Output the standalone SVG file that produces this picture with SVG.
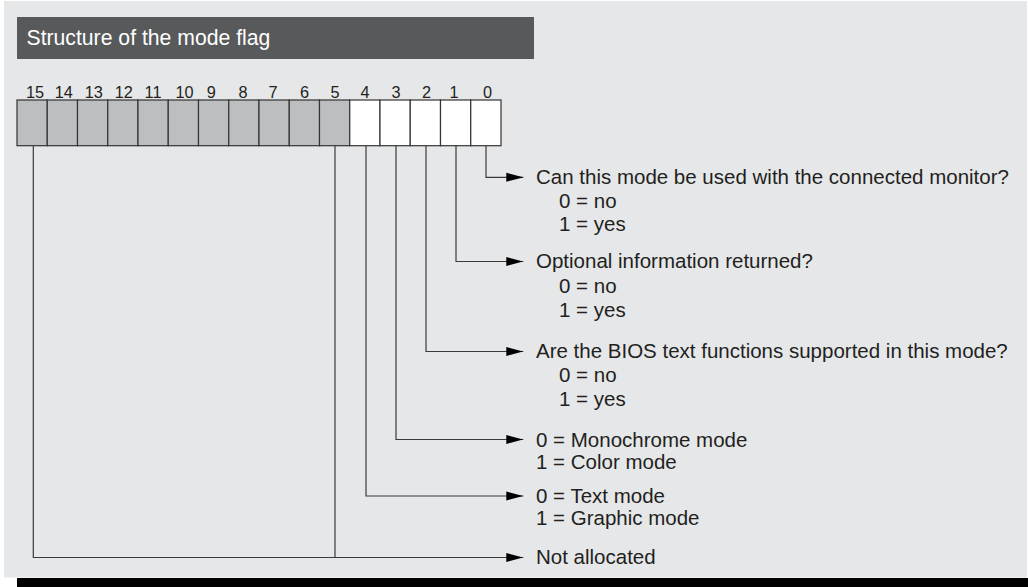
<svg xmlns="http://www.w3.org/2000/svg" width="1028" height="587" viewBox="0 0 1028 587">
  <defs>
    <style>
      .bg { fill: #e6e7e9; }
      .title-bar { fill: #58595b; }
      .title { font-family: "Liberation Sans", Arial, Helvetica, sans-serif; font-size: 21.2px; fill: #ffffff; }
      .bitnum { font-family: "Liberation Sans", Arial, Helvetica, sans-serif; font-size: 16.3px; fill: #231f20; text-anchor: middle; }
      .cell-gray { fill: #bcbec0; stroke: #333333; stroke-width: 1.2; }
      .cell-white { fill: #ffffff; stroke: #333333; stroke-width: 1.2; }
      .conn { fill: none; stroke: #3a3a3a; stroke-width: 1.2; }
      .lbl { font-family: "Liberation Sans", Arial, Helvetica, sans-serif; font-size: 20.5px; fill: #231f20; }
    </style>
    <marker id="ah" markerUnits="userSpaceOnUse" markerWidth="17" markerHeight="10" refX="17" refY="4.5" orient="auto" viewBox="0 0 17 9">
      <path d="M0,0 L17,4.5 L0,9 z" fill="#000000"/>
    </marker>
  </defs>

  <rect x="0" y="0" width="1028" height="587" fill="#ffffff"/>
  <rect class="bg" x="4" y="1" width="1023" height="576.5"/>
  <rect x="17" y="578" width="1011" height="9" fill="#000000"/>

  <g id="title">
    <rect class="title-bar" x="17" y="17" width="517" height="42"/>
    <text class="title" x="26.5" y="44.5">Structure of the mode flag</text>
  </g>

  <g id="register">
    <g id="bit-numbers">
      <text class="bitnum" x="35" y="97.5">15</text>
      <text class="bitnum" x="63.8" y="97.5">14</text>
      <text class="bitnum" x="93.8" y="97.5">13</text>
      <text class="bitnum" x="123.8" y="97.5">12</text>
      <text class="bitnum" x="153" y="97.5">11</text>
      <text class="bitnum" x="184.5" y="97.5">10</text>
      <text class="bitnum" x="211.3" y="97.5">9</text>
      <text class="bitnum" x="243" y="97.5">8</text>
      <text class="bitnum" x="273" y="97.5">7</text>
      <text class="bitnum" x="304.5" y="97.5">6</text>
      <text class="bitnum" x="335" y="97.5">5</text>
      <text class="bitnum" x="365" y="97.5">4</text>
      <text class="bitnum" x="396" y="97.5">3</text>
      <text class="bitnum" x="426.5" y="97.5">2</text>
      <text class="bitnum" x="454" y="97.5">1</text>
      <text class="bitnum" x="487.5" y="97.5">0</text>
    </g>
    <g id="cells">
      <rect class="cell-gray" x="17" y="100" width="30.25" height="45.7"/>
      <rect class="cell-gray" x="47.25" y="100" width="30.25" height="45.7"/>
      <rect class="cell-gray" x="77.5" y="100" width="30.25" height="45.7"/>
      <rect class="cell-gray" x="107.75" y="100" width="30.25" height="45.7"/>
      <rect class="cell-gray" x="138" y="100" width="30.25" height="45.7"/>
      <rect class="cell-gray" x="168.25" y="100" width="30.25" height="45.7"/>
      <rect class="cell-gray" x="198.5" y="100" width="30.25" height="45.7"/>
      <rect class="cell-gray" x="228.75" y="100" width="30.25" height="45.7"/>
      <rect class="cell-gray" x="259" y="100" width="30.25" height="45.7"/>
      <rect class="cell-gray" x="289.25" y="100" width="30.25" height="45.7"/>
      <rect class="cell-gray" x="319.5" y="100" width="30.25" height="45.7"/>
      <rect class="cell-white" x="349.75" y="100" width="30.25" height="45.7"/>
      <rect class="cell-white" x="380" y="100" width="30.25" height="45.7"/>
      <rect class="cell-white" x="410.25" y="100" width="30.25" height="45.7"/>
      <rect class="cell-white" x="440.5" y="100" width="30.25" height="45.7"/>
      <rect class="cell-white" x="470.75" y="100" width="30.25" height="45.7"/>
    </g>
  </g>

  <g id="connectors">
    <path class="conn" d="M486,145.7 V177.3 H523.3" marker-end="url(#ah)"/>
    <path class="conn" d="M456,145.7 V261.5 H523.3" marker-end="url(#ah)"/>
    <path class="conn" d="M426,145.7 V351.5 H523.3" marker-end="url(#ah)"/>
    <path class="conn" d="M396,145.7 V439.5 H523.3" marker-end="url(#ah)"/>
    <path class="conn" d="M366,145.7 V496 H523.3" marker-end="url(#ah)"/>
    <path class="conn" d="M33.3,145.7 V557.5 H523.3" marker-end="url(#ah)"/>
    <path class="conn" d="M335,145.7 V557.5"/>
  </g>

  <g id="label-bit0">
    <text class="lbl" x="536" y="183.5">Can this mode be used with the connected monitor?</text>
    <text class="lbl" x="559" y="207.5">0 = no</text>
    <text class="lbl" x="559" y="231">1 = yes</text>
  </g>
  <g id="label-bit1">
    <text class="lbl" x="536" y="268.3">Optional information returned?</text>
    <text class="lbl" x="559" y="292.5">0 = no</text>
    <text class="lbl" x="559" y="316.5">1 = yes</text>
  </g>
  <g id="label-bit2">
    <text class="lbl" x="536" y="358.3">Are the BIOS text functions supported in this mode?</text>
    <text class="lbl" x="559" y="382">0 = no</text>
    <text class="lbl" x="559" y="406">1 = yes</text>
  </g>
  <g id="label-bit3">
    <text class="lbl" x="536" y="447.3">0 = Monochrome mode</text>
    <text class="lbl" x="536" y="468.5">1 = Color mode</text>
  </g>
  <g id="label-bit4">
    <text class="lbl" x="536" y="503.3">0 = Text mode</text>
    <text class="lbl" x="536" y="525">1 = Graphic mode</text>
  </g>
  <g id="label-bits15-5">
    <text class="lbl" x="536" y="564.3">Not allocated</text>
  </g>
</svg>
